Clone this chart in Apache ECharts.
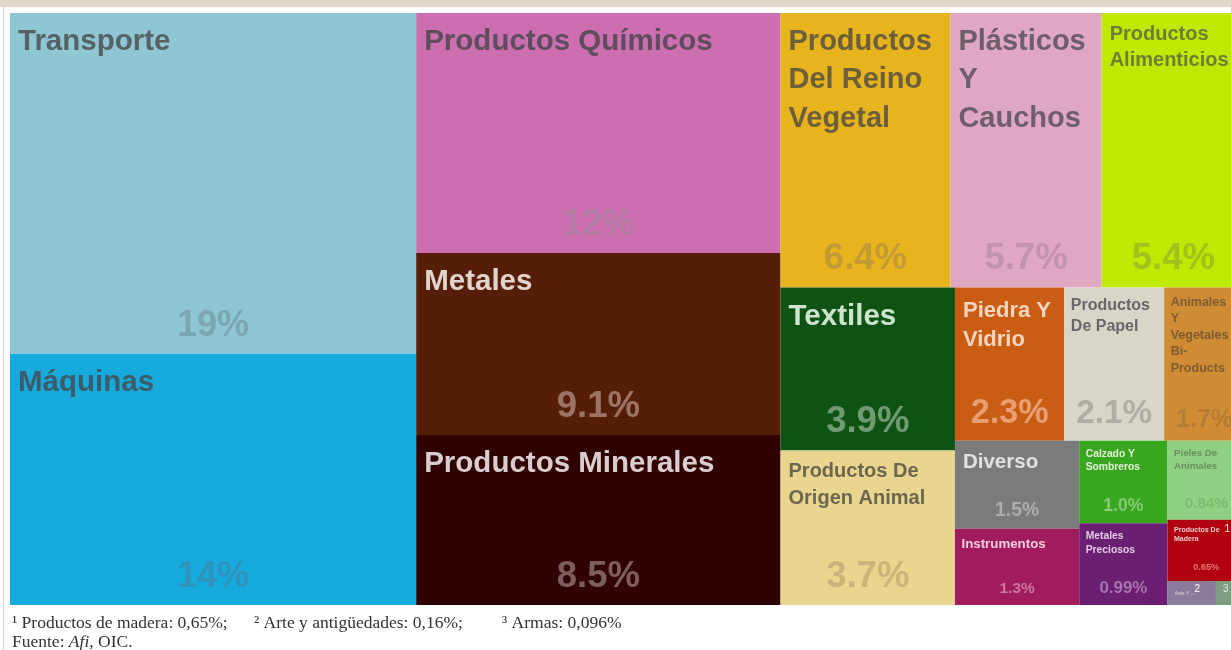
<!DOCTYPE html>
<html>
<head>
<meta charset="utf-8">
<script src="https://cdn.jsdelivr.net/npm/echarts@6/dist/echarts.min.js"></script>
<style>
html,body{margin:0;padding:0;overflow:hidden;background:#fff;width:1231px;height:650px;}
#c{position:absolute;left:0;top:0;width:1250px;height:650px;}
</style>
</head>
<body>
<div id="c"></div>
<script>
// ---------- DATA ----------
const categories = [
  'Transporte', 'Máquinas', 'Productos Químicos', 'Metales', 'Productos Minerales',
  'Productos Del Reino Vegetal', 'Plásticos Y Cauchos', 'Productos Alimenticios',
  'Textiles', 'Productos De Origen Animal', 'Piedra Y Vidrio', 'Productos De Papel',
  'Animales Y Vegetales Bi-Products', 'Diverso', 'Instrumentos', 'Calzado Y Sombreros',
  'Metales Preciosos', 'Pieles De Animales', 'Productos De Madera', 'Arte Y Antigüedades', 'Armas'
];
const shares = [19, 14, 12, 9.1, 8.5, 6.4, 5.7, 5.4, 3.9, 3.7, 2.3, 2.1, 1.7, 1.5, 1.3, 1.0, 0.99, 0.84, 0.65, 0.16, 0.096];
const footnoteIndex = [18, 19, 20];
const footnoteMarks = ['1', '2', '3'];
const footnoteNames = ['Productos de madera', 'Arte y antigüedades', 'Armas'];
const sourceText = ['Fuente: ', 'Afi', ', OIC.'];

// ---------- STYLE ----------
const fills = ['#8fc6d3', '#17aadd', '#cd6eb1', '#561e08', '#300202', '#e8b41e', '#e0a7c3', '#bfe900',
  '#0e5313', '#e9d58e', '#c85d13', '#d9d5c9', '#d08b35', '#7b7b7b', '#a11c5f', '#39a61f',
  '#6b1f73', '#8fd082', '#b1000f', '#8b7c9b', '#7f9e80'];
const nameColors = ['#566266', '#3c5c6a', '#5e4d5c', '#e0d4cc', '#d8cdd0', '#6b5f3c', '#6d5e69', '#6e7d38',
  '#cfe3cf', '#6c6650', '#f3d5c0', '#676767', '#7c5d33', '#e2e2e2', '#f2cddd', '#e4f2dc',
  '#e3cbe3', '#6b8d62', '#f3cccc', '#cfc7d7', '#cfd8cf'];
const pctColors = ['#7aa7b2', '#2f92bb', '#b27ba2', '#9c7466', '#7c5e5e', '#c39b34', '#c293ab', '#a1c21c',
  '#709b70', '#c8b57a', '#e99e74', '#b0ada5', '#b57c34', '#adadad', '#cf76a0', '#86cc76',
  '#a775ad', '#7bbb6e', '#e57777', '#b0a6bb', '#a0b8a0'];
const nameSizes = [29.5, 29.5, 29.5, 29.5, 29.5, 29, 29, 20, 29.5, 20, 22, 16, 12.5, 20.5, 13.3, 10.3, 10.3, 9.7, 7, 5, 0];
const pctSizes = [36, 36, 36, 36.5, 36.5, 36.5, 36.5, 36.5, 36.5, 36.5, 34.2, 33.3, 25, 19.3, 15.4, 17.6, 16.9, 15.2, 9.2, 0, 0];
// words per label line (null = single line, truncated to fit)
const wordsPerLine = [[1], [1], [2], [1], [2], [1, 2, 1], [1, 1, 1], [1, 1], [1], [2, 2], [2, 1], [1, 2],
  [1, 1, 1, 1, 1], [1], [1], [2, 1], [1, 1], [2, 1], [2, 1], null, null];
const markPad = {18: [4, 0, 0, 57], 19: [3, 0, 0, 27], 20: [3, 0, 0, 7]};

const FONT = "'Liberation Sans', Arial, sans-serif";
const SERIF = "'Liberation Serif', 'DejaVu Serif', serif";

function pctText(v) { return v.toPrecision(2) + '%'; }

function nameText(i) {
  const groups = wordsPerLine[i];
  if (!groups) return categories[i];
  const words = categories[i].split(/\s+|(?<=-)/);
  const lines = [];
  let k = 0;
  groups.forEach(g => { lines.push(words.slice(k, k + g).join(' ')); k += g; });
  if (k < words.length) lines.push(words.slice(k).join(' '));
  return lines.join('\n');
}

const area = { left: 10, top: 13, width: 1235, height: 592 };

function baseSeries(extra) {
  return Object.assign({
    type: 'treemap',
    left: area.left, top: area.top, width: area.width, height: area.height,
    roam: false, nodeClick: false, animation: false,
    breadcrumb: { show: false },
    visibleMin: 0,
    sort: 'desc',
    emphasis: { disabled: true }
  }, extra);
}

const nameData = categories.map((n, i) => {
  const s = nameSizes[i] || 1;
  const padTop = Math.round((0.2 * s + 4) * 10) / 10;
  const padLeft = s >= 20 ? 8 : 6.5;
  return {
    name: n, value: shares[i],
    itemStyle: { color: fills[i] },
    label: {
      show: nameSizes[i] > 0,
      position: 'insideTopLeft', distance: 0,
      padding: i === 19 ? [9, 18, 1, 7] : [padTop, 0, 0, padLeft],
      fontFamily: FONT, fontWeight: 'bold',
      fontSize: s, lineHeight: Math.round(s * 1.32 * 10) / 10,
      color: nameColors[i],
      overflow: wordsPerLine[i] ? 'none' : 'truncate',
      formatter: () => nameText(i)
    }
  };
});

const pctData = categories.map((n, i) => ({
  name: n, value: shares[i],
  itemStyle: { color: 'rgba(0,0,0,0)', borderColor: 'rgba(0,0,0,0)' },
  label: {
    show: pctSizes[i] > 0,
    position: 'insideBottom', distance: pctSizes[i] > 30 ? 10 : 8.5, padding: 0,
    fontFamily: FONT, fontWeight: 'bold',
    fontSize: pctSizes[i] || 1, lineHeight: pctSizes[i] || 1,
    color: pctColors[i], overflow: 'none',
    formatter: () => pctText(shares[i])
  }
}));

const markData = categories.map((n, i) => {
  const k = footnoteIndex.indexOf(i);
  return {
    name: n, value: shares[i],
    itemStyle: { color: 'rgba(0,0,0,0)', borderColor: 'rgba(0,0,0,0)' },
    label: {
      show: k >= 0,
      position: 'insideTopLeft', distance: 0,
      padding: k >= 0 ? markPad[i] : 0,
      fontFamily: FONT, fontSize: 10, lineHeight: 10,
      color: i === 20 ? '#dfe8df' : '#ffffff', overflow: 'none',
      formatter: () => (k >= 0 ? footnoteMarks[k] : '')
    }
  };
});

const supMap = {'1': '¹', '2': '²', '3': '³'};
const footX = [12, 254, 502];
const footGraphics = footnoteIndex.map((idx, k) => ({
  type: 'text', left: footX[k], top: 614,
  style: {
    text: supMap[footnoteMarks[k]] + ' ' + footnoteNames[k] + ': ' +
      String(shares[idx]).replace('.', ',') + '%' + (k < footnoteIndex.length - 1 ? ';' : ''),
    font: '17.5px ' + SERIF, fill: '#333333'
  }
}));

const chart = echarts.init(document.getElementById('c'), null, { renderer: 'canvas' });
chart.setOption({
  animation: false,
  graphic: [
    { type: 'rect', left: 0, top: 0, shape: { width: 1250, height: 7 }, style: { fill: '#e0d8cb' } },
    { type: 'rect', left: 3, top: 7, shape: { width: 1, height: 643 }, style: { fill: '#d6d1c8' } },
    ...footGraphics,
    {
      type: 'text', left: 12, top: 633,
      style: {
        text: '{r|' + sourceText[0] + '}{i|' + sourceText[1] + '}{r|' + sourceText[2] + '}',
        rich: {
          r: { font: '17.5px ' + SERIF, fill: '#333333' },
          i: { font: 'italic 17.5px ' + SERIF, fill: '#333333' }
        }
      }
    }
  ],
  series: [
    baseSeries({ name: 'names', itemStyle: { borderWidth: 0, gapWidth: 0, borderColor: '#ffffff' }, data: nameData }),
    baseSeries({ name: 'pct', silent: true, itemStyle: { borderWidth: 0, gapWidth: 0, borderColor: 'rgba(0,0,0,0)', color: 'rgba(0,0,0,0)' }, data: pctData }),
    baseSeries({ name: 'marks', silent: true, itemStyle: { borderWidth: 0, gapWidth: 0, borderColor: 'rgba(0,0,0,0)', color: 'rgba(0,0,0,0)' }, data: markData })
  ]
});
</script>
</body>
</html>
